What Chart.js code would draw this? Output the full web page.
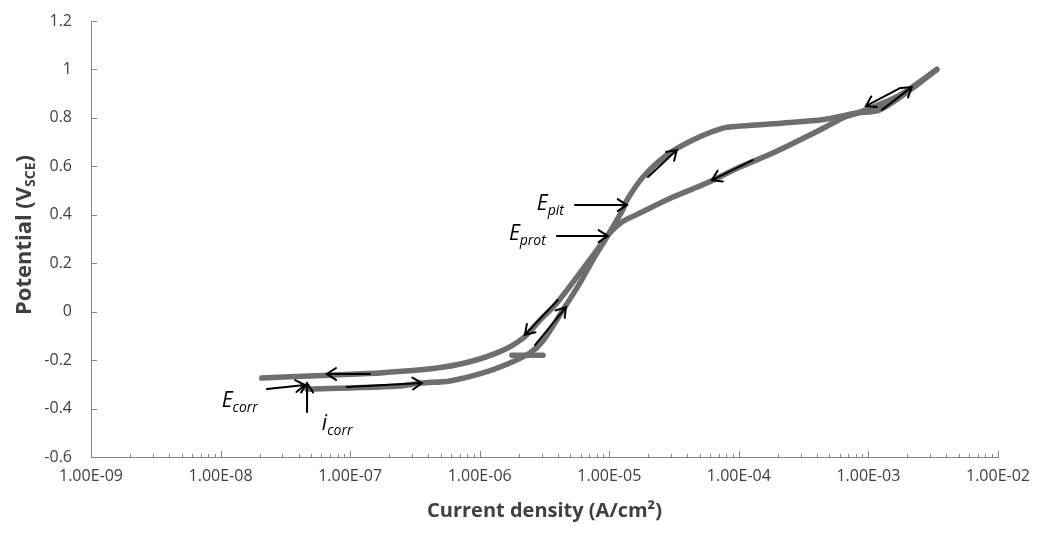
<!DOCTYPE html>
<html>
<head>
<meta charset="utf-8">
<script src="https://cdn.jsdelivr.net/npm/chart.js@4.4.0/dist/chart.umd.min.js"></script>
<style>
  html, body { margin: 0; padding: 0; background: #fff; }
</style>
</head>
<body>
<canvas id="chart" width="1040" height="534"></canvas>
<script>
// === Data (current density A/cm2, potential V vs SCE) ===
const fwdCurrent = [4.65e-8, 1.0e-7, 2.42e-7, 3.47e-7, 5.89e-7, 1.06e-6, 1.71e-6, 2.44e-6, 3.08e-6,
  4.39e-6, 5.93e-6, 7.46e-6, 9.57e-6, 1.27e-5, 1.37e-5, 1.82e-5, 2.78e-5, 4.42e-5, 7.53e-5,
  1.02e-4, 4.22e-4, 8.13e-4, 1.22e-3, 2.09e-3, 3.37e-3];
const fwdPotential = [-0.32, -0.315, -0.307, -0.295, -0.286, -0.253, -0.212, -0.171, -0.12,
  0.007, 0.118, 0.213, 0.308, 0.42, 0.461, 0.556, 0.647, 0.709, 0.758,
  0.766, 0.791, 0.82, 0.833, 0.915, 1.0];

const revCurrent = [3.37e-3, 1.75e-3, 8.59e-4, 6.34e-4, 4.22e-4, 1.83e-4, 1.02e-4, 5.66e-5, 3.10e-5,
  1.72e-5, 1.27e-5, 9.75e-6, 8.02e-6, 5.62e-6, 3.94e-6, 2.92e-6, 2.15e-6, 1.43e-6, 7.96e-7,
  4.36e-7, 1.79e-7, 6.98e-8, 2.08e-8];
const revPotential = [1.0, 0.894, 0.824, 0.8, 0.75, 0.655, 0.597, 0.531, 0.473,
  0.407, 0.372, 0.316, 0.254, 0.143, 0.036, -0.035, -0.11, -0.165, -0.21,
  -0.235, -0.252, -0.262, -0.274];

const startCurrent = [1.77e-6, 3.08e-6];
const startPotential = [-0.18, -0.18];

const xTickValues = [1e-9, 1e-8, 1e-7, 1e-6, 1e-5, 1e-4, 1e-3, 1e-2];

// arrows: [tailX, tailY, headX, headY] in data units
const arrows = [
  [1.42e-7, -0.257, 6.6e-8, -0.257],
  [9.4e-8, -0.311, 3.58e-7, -0.295],
  [2.28e-8, -0.319, 4.48e-8, -0.303],
  [4.65e-8, -0.414, 4.65e-8, -0.295],
  [4.0e-6, 0.048, 2.23e-6, -0.096],
  [2.67e-6, -0.138, 4.63e-6, 0.019],
  [5.43e-6, 0.44, 1.37e-5, 0.44],
  [3.94e-6, 0.312, 9.75e-6, 0.312],
  [1.99e-5, 0.556, 3.32e-5, 0.667],
  [1.28e-4, 0.626, 6.19e-5, 0.543],
  [1.75e-3, 0.923, 9.55e-4, 0.849],
  [1.27e-3, 0.833, 2.16e-3, 0.927]
];

// labels: [main, sub, x, y] (baseline-left of main letter)
const labels = [
  ['E', 'corr', 1.02e-8, -0.394],
  ['i', 'corr', 6.05e-8, -0.489],
  ['E', 'pit', 2.76e-6, 0.42],
  ['E', 'prot', 1.68e-6, 0.296]
];

const lineColor = '#6e6e6e';
const textColor = '#404040';
const axisColor = '#868686';
const fontFamily = "'Open Sans', sans-serif";

function toPoints(xs, ys) {
  return xs.map((x, i) => ({ x: x, y: ys[i] }));
}

function fmtSci(v) {
  const e = Math.round(Math.log10(v));
  const sign = e < 0 ? '-' : '+';
  return '1.00E' + sign + String(Math.abs(e)).padStart(2, '0');
}

function curve(label, xs, ys) {
  return {
    label: label,
    data: toPoints(xs, ys),
    showLine: true,
    borderColor: lineColor,
    borderWidth: 5.5,
    pointRadius: 0,
    tension: 0.3,
    borderCapStyle: 'round',
    borderJoinStyle: 'round',
    fill: false
  };
}

// === Annotation / axis decoration plugin ===
const decor = {
  id: 'decor',
  afterDraw(chart) {
    const ctx = chart.ctx;
    const xs = chart.scales.x;
    const ys = chart.scales.y;
    const area = chart.chartArea;

    ctx.save();
    // inward tick marks
    ctx.strokeStyle = axisColor;
    ctx.lineWidth = 1;
    ctx.beginPath();
    ys.ticks.forEach(t => {
      const py = Math.round(ys.getPixelForValue(t.value)) + 0.5;
      ctx.moveTo(area.left, py);
      ctx.lineTo(area.left + 6, py);
    });
    for (let d = 1e-9; d < 1.5e-2; d *= 10) {
      for (let k = 1; k <= 9; k++) {
        const v = d * k;
        if (v > 1.0001e-2) break;
        const px = Math.round(xs.getPixelForValue(v)) + 0.5;
        ctx.moveTo(px, area.bottom);
        ctx.lineTo(px, area.bottom - (k === 1 ? 6 : 3));
      }
    }
    ctx.stroke();

    // arrows
    ctx.strokeStyle = '#000';
    ctx.lineWidth = 2;
    ctx.lineCap = 'round';
    arrows.forEach(a => {
      const x1 = xs.getPixelForValue(a[0]), y1 = ys.getPixelForValue(a[1]);
      const x2 = xs.getPixelForValue(a[2]), y2 = ys.getPixelForValue(a[3]);
      const ang = Math.atan2(y2 - y1, x2 - x1);
      const hl = 11, spread = Math.PI / 5.5;
      ctx.beginPath();
      ctx.moveTo(x1, y1);
      ctx.lineTo(x2, y2);
      ctx.moveTo(x2 - hl * Math.cos(ang - spread), y2 - hl * Math.sin(ang - spread));
      ctx.lineTo(x2, y2);
      ctx.lineTo(x2 - hl * Math.cos(ang + spread), y2 - hl * Math.sin(ang + spread));
      ctx.stroke();
    });

    // italic labels with subscripts
    ctx.fillStyle = '#000';
    ctx.textBaseline = 'alphabetic';
    ctx.textAlign = 'left';
    labels.forEach(l => {
      const px = xs.getPixelForValue(l[2]);
      const py = ys.getPixelForValue(l[3]);
      ctx.font = 'italic 21px ' + fontFamily;
      ctx.fillText(l[0], px, py);
      const w = ctx.measureText(l[0]).width;
      ctx.font = 'italic 14px ' + fontFamily;
      ctx.fillText(l[1], px + w, py + 5);
    });

    // axis titles
    ctx.fillStyle = textColor;
    ctx.font = 'bold 20px ' + fontFamily;
    ctx.textAlign = 'center';
    ctx.fillText('Current density (A/cm²)', (area.left + area.right) / 2, 517);

    ctx.translate(31, 235);
    ctx.rotate(-Math.PI / 2);
    const mainT = 'Potential (V';
    const subT = 'SCE';
    const endT = ')';
    ctx.font = 'bold 22px ' + fontFamily;
    const w1 = ctx.measureText(mainT).width;
    const w3 = ctx.measureText(endT).width;
    ctx.font = 'bold 14px ' + fontFamily;
    const w2 = ctx.measureText(subT).width;
    let x0 = -(w1 + w2 + w3) / 2;
    ctx.textAlign = 'left';
    ctx.font = 'bold 22px ' + fontFamily;
    ctx.fillText(mainT, x0, 0);
    ctx.font = 'bold 14px ' + fontFamily;
    ctx.fillText(subT, x0 + w1, 4);
    ctx.font = 'bold 22px ' + fontFamily;
    ctx.fillText(endT, x0 + w1 + w2, 0);
    ctx.restore();
  }
};

// === Chart ===
const chart = new Chart(document.getElementById('chart'), {
  type: 'scatter',
  data: {
    datasets: [
      curve('Start', startCurrent, startPotential),
      curve('Forward', fwdCurrent, fwdPotential),
      curve('Reverse', revCurrent, revPotential)
    ]
  },
  options: {
    responsive: false,
    animation: false,
    layout: { padding: { top: 21, right: 42, left: 0, bottom: 0 } },
    plugins: {
      legend: { display: false },
      tooltip: { enabled: false }
    },
    scales: {
      x: {
        type: 'logarithmic',
        min: 1e-9,
        max: 1e-2,
        afterBuildTicks: s => { s.ticks = xTickValues.map(v => ({ value: v })); },
        afterFit: s => { s.height = 77; s.paddingLeft = 0; s.paddingRight = 0; },
        grid: { display: false, drawTicks: false },
        border: { color: axisColor, width: 1 },
        ticks: {
          callback: v => fmtSci(v),
          color: textColor,
          font: { family: fontFamily, size: 16 },
          padding: 10,
          maxRotation: 0,
          autoSkip: false
        }
      },
      y: {
        min: -0.6,
        max: 1.2,
        afterFit: s => { s.width = 91; s.paddingTop = 0; s.paddingBottom = 0; },
        grid: { display: false, drawTicks: false },
        border: { color: axisColor, width: 1 },
        ticks: {
          stepSize: 0.2,
          callback: v => String(Math.round(v * 10) / 10),
          color: textColor,
          font: { family: fontFamily, size: 16 },
          padding: 19
        }
      }
    }
  },
  plugins: [decor]
});
</script>
</body>
</html>
